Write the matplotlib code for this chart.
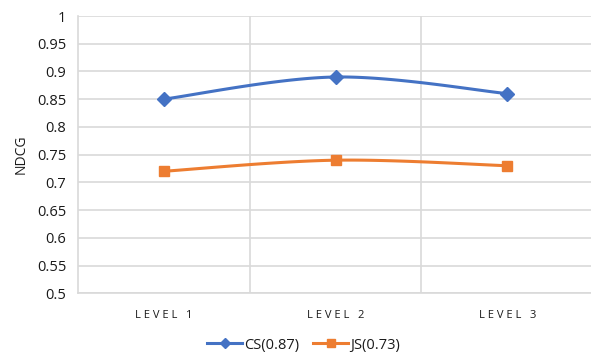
import numpy as np
import matplotlib
matplotlib.use("Agg")
import matplotlib.pyplot as plt
from matplotlib.lines import Line2D

categories = ["LEVEL 1", "LEVEL 2", "LEVEL 3"]
cs_values = [0.85, 0.89, 0.86]
js_values = [0.72, 0.74, 0.73]
series_labels = ["CS(0.87)", "JS(0.73)"]
y_ticks = [0.5, 0.55, 0.6, 0.65, 0.7, 0.75, 0.8, 0.85, 0.9, 0.95, 1.0]
y_tick_labels = ["0.5", "0.55", "0.6", "0.65", "0.7", "0.75", "0.8", "0.85", "0.9", "0.95", "1"]

BLUE = "#4472C4"
ORANGE = "#ED7D31"
GRID = "#D9D9D9"
TEXT = "#1A1A1A"

plt.rcParams["font.family"] = ["Open Sans", "DejaVu Sans"]


def smooth_curve(xs, ys, n=60):
    """Cubic Bezier smoothing through each point (Catmull-Rom style)."""
    xs = np.asarray(xs, float)
    ys = np.asarray(ys, float)
    px = np.concatenate([[xs[0]], xs, [xs[-1]]])
    py = np.concatenate([[ys[0]], ys, [ys[-1]]])
    out_x, out_y = [], []
    t = np.linspace(0, 1, n)
    for i in range(1, len(px) - 2):
        p0 = np.array([px[i], py[i]])
        p3 = np.array([px[i + 1], py[i + 1]])
        c1 = p0 + (np.array([px[i + 1], py[i + 1]]) - np.array([px[i - 1], py[i - 1]])) / 6
        c2 = p3 - (np.array([px[i + 2], py[i + 2]]) - np.array([px[i], py[i]])) / 6
        b = ((1 - t) ** 3)[:, None] * p0 + (3 * (1 - t) ** 2 * t)[:, None] * c1 \
            + (3 * (1 - t) * t ** 2)[:, None] * c2 + (t ** 3)[:, None] * p3
        out_x.extend(b[:, 0])
        out_y.extend(b[:, 1])
    return np.array(out_x), np.array(out_y)


fig = plt.figure(figsize=(5.91, 3.54), dpi=100)
ax = fig.add_axes([77.5 / 591, 1 - 293.3 / 354, 1 - 77.5 / 591, (293.3 - 16) / 354])

x = np.arange(len(categories))
for vals, color, marker, ms in [(cs_values, BLUE, "D", 6.8), (js_values, ORANGE, "s", 7.0)]:
    sx, sy = smooth_curve(x, vals)
    ax.plot(sx, sy, color=color, lw=2.2, solid_capstyle="round", zorder=3)
    ax.plot(x, vals, linestyle="none", marker=marker, ms=ms, color=color,
            markeredgecolor=color, zorder=4)

ax.set_ylim(0.5, 1.0)
ax.set_xlim(-0.5, -0.5 + (591 - 77.5) / 172)
ax.set_yticks(y_ticks)
ax.set_yticklabels(y_tick_labels)
ax.set_xticks(x)
ax.set_xticklabels([" ".join(c.replace(" ", "")[:-1]) + "   " + c[-1] for c in categories],
                   fontsize=8.0)
ax.tick_params(axis="y", length=0, pad=8, labelsize=10.5, labelcolor=TEXT)
ax.tick_params(axis="x", length=0, pad=12, labelcolor=TEXT)

ax.set_xticks([0.5, 1.5], minor=True)
ax.tick_params(axis="x", which="minor", length=0)
ax.grid(True, axis="y", color=GRID, lw=1.2)
ax.grid(True, axis="x", which="minor", color=GRID, lw=1.2)
ax.set_axisbelow(True)

for side in ["top", "right"]:
    ax.spines[side].set_visible(False)
for side in ["left", "bottom"]:
    ax.spines[side].set_color(GRID)
    ax.spines[side].set_linewidth(1.2)

ax.set_ylabel("NDCG", fontsize=10, color=TEXT, labelpad=6)

handles = [
    Line2D([], [], color=BLUE, lw=2.2, marker="D", ms=5),
    Line2D([], [], color=ORANGE, lw=2.2, marker="s", ms=5.5),
]
fig.legend(handles, series_labels, loc="center", bbox_to_anchor=(303.5 / 591, 1 - 345 / 354),
           ncol=2, frameon=False, fontsize=10.5, handlelength=2.4, columnspacing=1.0,
           handletextpad=0.1, labelcolor=TEXT)

fig.savefig("out.png", dpi=100)
